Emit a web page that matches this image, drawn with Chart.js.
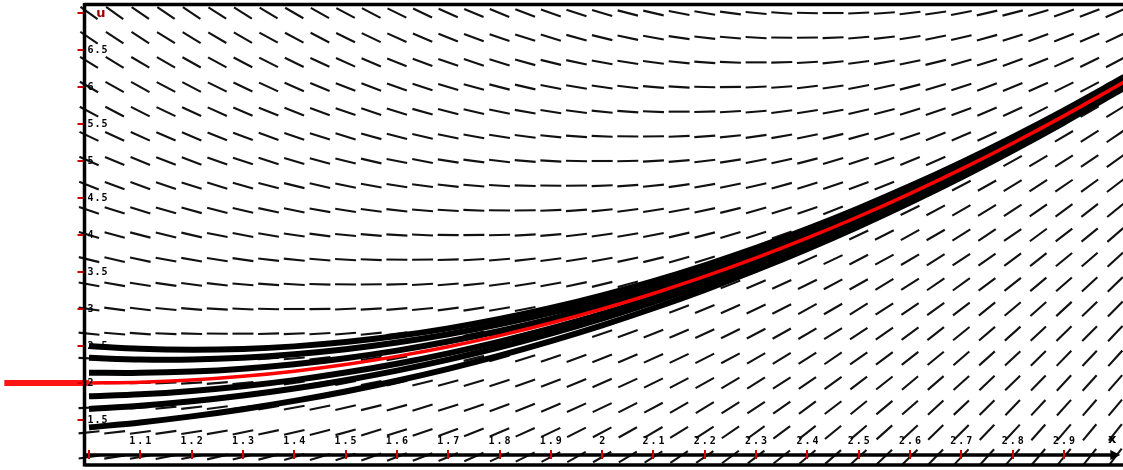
<!DOCTYPE html>
<html>
<head>
<meta charset="utf-8">
<script src="https://cdn.jsdelivr.net/npm/chart.js@4.4.1/dist/chart.umd.min.js"></script>
<style>
  html,body{margin:0;padding:0;background:#fff;}
  #wrap{width:1123px;height:470px;}
</style>
</head>
<body>
<div id="wrap"><canvas id="slopeChart" width="1123" height="470"></canvas></div>
<script>
// solution curves u(x), sampled every 0.1 (last sample just past the right edge)
const solX   = [1.0,1.1,1.2,1.3,1.4,1.5,1.6,1.7,1.8,1.9,2.0,2.1,2.2,2.3,2.4,2.5,2.6,2.7,2.8,2.9,3.0,3.02];
const redU   = [2.00,2.01,2.04,2.09,2.16,2.25,2.36,2.49,2.64,2.81,3.00,3.21,3.44,3.69,3.96,4.25,4.56,4.89,5.24,5.61,6.00,6.080];
const curveA = [2.500,2.462,2.449,2.460,2.495,2.553,2.634,2.738,2.865,3.013,3.184,3.377,3.591,3.826,4.083,4.362,4.661,4.981,5.323,5.685,6.068,6.147];
const curveB = [2.340,2.318,2.318,2.342,2.388,2.456,2.547,2.659,2.793,2.948,3.125,3.323,3.542,3.783,4.044,4.326,4.629,4.952,5.296,5.661,6.046,6.126];
const curveC = [2.140,2.137,2.155,2.194,2.254,2.335,2.437,2.560,2.703,2.867,3.052,3.257,3.482,3.728,3.995,4.281,4.588,4.916,5.263,5.631,6.019,6.099];
const curveD = [1.820,1.847,1.893,1.957,2.039,2.141,2.261,2.401,2.559,2.737,2.934,3.150,3.386,3.641,3.916,4.210,4.524,4.857,5.210,5.583,5.976,6.057];
const curveE = [1.650,1.693,1.753,1.831,1.925,2.038,2.168,2.316,2.483,2.668,2.871,3.094,3.335,3.595,3.874,4.172,4.489,4.826,5.182,5.558,5.953,6.034];
const curveF = [1.400,1.467,1.549,1.646,1.758,1.886,2.031,2.192,2.370,2.566,2.779,3.010,3.259,3.527,3.812,4.116,4.439,4.780,5.141,5.520,5.919,6.001];

// initial value marker u(1)=2, left of the axis
const markerX = [0.835, 1.0];
const markerU = [2, 2];

// direction field grid and slopes (rows = fieldU, cols = fieldX)
const fieldX = [1.00,1.05,1.10,1.15,1.20,1.25,1.30,1.35,1.40,1.45,1.50,1.55,1.60,1.65,1.70,1.75,1.80,1.85,1.90,1.95,2.00,
                2.05,2.10,2.15,2.20,2.25,2.30,2.35,2.40,2.45,2.50,2.55,2.60,2.65,2.70,2.75,2.80,2.85,2.90,2.95,3.00];
const fieldU = [1.000,1.333,1.667,2.000,2.333,2.667,3.000,3.333,3.667,4.000,4.333,4.667,5.000,5.333,5.667,6.000,6.333,6.667,7.000];
const fieldSlopes = [
  [1.0,1.1,1.2,1.3,1.4,1.6,1.7,1.8,2.0,2.1,2.3,2.4,2.6,2.7,2.9,3.1,3.2,3.4,3.6,3.8,4.0,4.2,4.4,4.6,4.8,5.1,5.3,5.5,5.8,6.0,6.3,6.5,6.8,7.0,7.3,7.6,7.8,8.1,8.4,8.7,9.0],
  [0.7,0.8,0.9,1.0,1.1,1.2,1.4,1.5,1.6,1.8,1.9,2.1,2.2,2.4,2.6,2.7,2.9,3.1,3.3,3.5,3.7,3.9,4.1,4.3,4.5,4.7,5.0,5.2,5.4,5.7,5.9,6.2,6.4,6.7,7.0,7.2,7.5,7.8,8.1,8.4,8.7],
  [0.3,0.4,0.5,0.7,0.8,0.9,1.0,1.2,1.3,1.4,1.6,1.7,1.9,2.1,2.2,2.4,2.6,2.8,2.9,3.1,3.3,3.5,3.7,4.0,4.2,4.4,4.6,4.9,5.1,5.3,5.6,5.8,6.1,6.4,6.6,6.9,7.2,7.5,7.7,8.0,8.3],
  [0.0,0.1,0.2,0.3,0.4,0.6,0.7,0.8,1.0,1.1,1.3,1.4,1.6,1.7,1.9,2.1,2.2,2.4,2.6,2.8,3.0,3.2,3.4,3.6,3.8,4.1,4.3,4.5,4.8,5.0,5.3,5.5,5.8,6.0,6.3,6.6,6.8,7.1,7.4,7.7,8.0],
  [-0.3,-0.2,-0.1,0.0,0.1,0.2,0.4,0.5,0.6,0.8,0.9,1.1,1.2,1.4,1.6,1.7,1.9,2.1,2.3,2.5,2.7,2.9,3.1,3.3,3.5,3.7,4.0,4.2,4.4,4.7,4.9,5.2,5.4,5.7,6.0,6.2,6.5,6.8,7.1,7.4,7.7],
  [-0.7,-0.6,-0.5,-0.3,-0.2,-0.1,0.0,0.2,0.3,0.4,0.6,0.7,0.9,1.1,1.2,1.4,1.6,1.8,1.9,2.1,2.3,2.5,2.7,3.0,3.2,3.4,3.6,3.9,4.1,4.3,4.6,4.8,5.1,5.4,5.6,5.9,6.2,6.5,6.7,7.0,7.3],
  [-1.0,-0.9,-0.8,-0.7,-0.6,-0.4,-0.3,-0.2,0.0,0.1,0.3,0.4,0.6,0.7,0.9,1.1,1.2,1.4,1.6,1.8,2.0,2.2,2.4,2.6,2.8,3.1,3.3,3.5,3.8,4.0,4.3,4.5,4.8,5.0,5.3,5.6,5.8,6.1,6.4,6.7,7.0],
  [-1.3,-1.2,-1.1,-1.0,-0.9,-0.8,-0.6,-0.5,-0.4,-0.2,-0.1,0.1,0.2,0.4,0.6,0.7,0.9,1.1,1.3,1.5,1.7,1.9,2.1,2.3,2.5,2.7,3.0,3.2,3.4,3.7,3.9,4.2,4.4,4.7,5.0,5.2,5.5,5.8,6.1,6.4,6.7],
  [-1.7,-1.6,-1.5,-1.3,-1.2,-1.1,-1.0,-0.8,-0.7,-0.6,-0.4,-0.3,-0.1,0.1,0.2,0.4,0.6,0.8,0.9,1.1,1.3,1.5,1.7,2.0,2.2,2.4,2.6,2.9,3.1,3.3,3.6,3.8,4.1,4.4,4.6,4.9,5.2,5.5,5.7,6.0,6.3],
  [-2.0,-1.9,-1.8,-1.7,-1.6,-1.4,-1.3,-1.2,-1.0,-0.9,-0.7,-0.6,-0.4,-0.3,-0.1,0.1,0.2,0.4,0.6,0.8,1.0,1.2,1.4,1.6,1.8,2.1,2.3,2.5,2.8,3.0,3.3,3.5,3.8,4.0,4.3,4.6,4.8,5.1,5.4,5.7,6.0],
  [-2.3,-2.2,-2.1,-2.0,-1.9,-1.8,-1.6,-1.5,-1.4,-1.2,-1.1,-0.9,-0.8,-0.6,-0.4,-0.3,-0.1,0.1,0.3,0.5,0.7,0.9,1.1,1.3,1.5,1.7,2.0,2.2,2.4,2.7,2.9,3.2,3.4,3.7,4.0,4.2,4.5,4.8,5.1,5.4,5.7],
  [-2.7,-2.6,-2.5,-2.3,-2.2,-2.1,-2.0,-1.8,-1.7,-1.6,-1.4,-1.3,-1.1,-0.9,-0.8,-0.6,-0.4,-0.2,-0.1,0.1,0.3,0.5,0.7,1.0,1.2,1.4,1.6,1.9,2.1,2.3,2.6,2.8,3.1,3.4,3.6,3.9,4.2,4.5,4.7,5.0,5.3],
  [-3.0,-2.9,-2.8,-2.7,-2.6,-2.4,-2.3,-2.2,-2.0,-1.9,-1.7,-1.6,-1.4,-1.3,-1.1,-0.9,-0.8,-0.6,-0.4,-0.2,0.0,0.2,0.4,0.6,0.8,1.1,1.3,1.5,1.8,2.0,2.3,2.5,2.8,3.0,3.3,3.6,3.8,4.1,4.4,4.7,5.0],
  [-3.3,-3.2,-3.1,-3.0,-2.9,-2.8,-2.6,-2.5,-2.4,-2.2,-2.1,-1.9,-1.8,-1.6,-1.4,-1.3,-1.1,-0.9,-0.7,-0.5,-0.3,-0.1,0.1,0.3,0.5,0.7,1.0,1.2,1.4,1.7,1.9,2.2,2.4,2.7,3.0,3.2,3.5,3.8,4.1,4.4,4.7],
  [-3.7,-3.6,-3.5,-3.3,-3.2,-3.1,-3.0,-2.8,-2.7,-2.6,-2.4,-2.3,-2.1,-1.9,-1.8,-1.6,-1.4,-1.2,-1.1,-0.9,-0.7,-0.5,-0.3,0.0,0.2,0.4,0.6,0.9,1.1,1.3,1.6,1.8,2.1,2.4,2.6,2.9,3.2,3.5,3.7,4.0,4.3],
  [-4.0,-3.9,-3.8,-3.7,-3.6,-3.4,-3.3,-3.2,-3.0,-2.9,-2.7,-2.6,-2.4,-2.3,-2.1,-1.9,-1.8,-1.6,-1.4,-1.2,-1.0,-0.8,-0.6,-0.4,-0.2,0.1,0.3,0.5,0.8,1.0,1.3,1.5,1.8,2.0,2.3,2.6,2.8,3.1,3.4,3.7,4.0],
  [-4.3,-4.2,-4.1,-4.0,-3.9,-3.8,-3.6,-3.5,-3.4,-3.2,-3.1,-2.9,-2.8,-2.6,-2.4,-2.3,-2.1,-1.9,-1.7,-1.5,-1.3,-1.1,-0.9,-0.7,-0.5,-0.3,0.0,0.2,0.4,0.7,0.9,1.2,1.4,1.7,2.0,2.2,2.5,2.8,3.1,3.4,3.7],
  [-4.7,-4.6,-4.5,-4.3,-4.2,-4.1,-4.0,-3.8,-3.7,-3.6,-3.4,-3.3,-3.1,-2.9,-2.8,-2.6,-2.4,-2.2,-2.1,-1.9,-1.7,-1.5,-1.3,-1.0,-0.8,-0.6,-0.4,-0.1,0.1,0.3,0.6,0.8,1.1,1.4,1.6,1.9,2.2,2.5,2.7,3.0,3.3],
  [-5.0,-4.9,-4.8,-4.7,-4.6,-4.4,-4.3,-4.2,-4.0,-3.9,-3.7,-3.6,-3.4,-3.3,-3.1,-2.9,-2.8,-2.6,-2.4,-2.2,-2.0,-1.8,-1.6,-1.4,-1.2,-0.9,-0.7,-0.5,-0.2,0.0,0.3,0.5,0.8,1.0,1.3,1.6,1.8,2.1,2.4,2.7,3.0]
];

// axis ticks
const xTickValues = [1.0,1.1,1.2,1.3,1.4,1.5,1.6,1.7,1.8,1.9,2.0,2.1,2.2,2.3,2.4,2.5,2.6,2.7,2.8,2.9];
const xTickLabels = ['','1.1','1.2','1.3','1.4','1.5','1.6','1.7','1.8','1.9','2','2.1','2.2','2.3','2.4','2.5','2.6','2.7','2.8','2.9'];
const yTickValues = [1.5,2,2.5,3,3.5,4,4.5,5,5.5,6,6.5,7];
const yTickLabels = ['1.5','2','2.5','3','3.5','4','4.5','5','5.5','6','6.5',''];
const xAxisEnd = 3.0;
const xAxisName = 'x';
const yAxisName = 'u';

const fieldPoints = [];
fieldU.forEach((u,i)=>{
  fieldX.forEach((x,j)=>{ fieldPoints.push({x:x, y:u, s:fieldSlopes[i][j]}); });
});
function curvePts(vals){ return solX.map((x,i)=>({x:x, y:vals[i]})); }

// turn a slope into a canvas rotation using the current scales
function fieldAngle(c){
  if(!c.raw) return 0;
  const xs = c.chart.scales.x, ys = c.chart.scales.y;
  const kx = (xs.right - xs.left)/(xs.max - xs.min);
  const ky = (ys.bottom - ys.top)/(ys.max - ys.min);
  return -Math.atan(c.raw.s*ky/kx)*180/Math.PI;
}

const axisDecor = {
  id:'axisDecor',
  afterDatasetsDraw(chart){
    const {ctx, chartArea:a, scales:{x:xs, y:ys}} = chart;
    const W = chart.width, H = chart.height;
    const fl = a.left - 4.5, ft = 4.5, fb = H - 5;
    const ay = ys.getPixelForValue(ys.min) - 2;
    const ax = xs.getPixelForValue(xAxisEnd);
    ctx.save();
    ctx.strokeStyle = '#000';
    ctx.lineWidth = 3.5;
    ctx.beginPath();
    ctx.moveTo(fl, ft); ctx.lineTo(W, ft);
    ctx.moveTo(fl, ft - 1.5); ctx.lineTo(fl, fb + 1.5);
    ctx.moveTo(fl, fb); ctx.lineTo(W, fb);
    ctx.moveTo(fl, ay); ctx.lineTo(ax - 2, ay);
    ctx.stroke();
    // arrow head on the x axis
    ctx.fillStyle = '#000';
    ctx.beginPath();
    ctx.moveTo(ax - 5, ay - 5); ctx.lineTo(ax + 5, ay); ctx.lineTo(ax - 5, ay + 5);
    ctx.closePath(); ctx.fill();

    // red ticks
    ctx.strokeStyle = '#d40000';
    ctx.lineWidth = 2;
    ctx.beginPath();
    xTickValues.forEach(v=>{ const px = Math.round(xs.getPixelForValue(v)); ctx.moveTo(px, ay - 5); ctx.lineTo(px, ay + 4); });
    yTickValues.forEach(v=>{ const py = Math.round(ys.getPixelForValue(v)); ctx.moveTo(fl - 7, py); ctx.lineTo(fl - 1, py); });
    ctx.stroke();

    // tick labels
    ctx.fillStyle = '#000';
    ctx.font = 'bold 10px "DejaVu Sans Mono"';
    ctx.letterSpacing = '2px';
    ctx.textAlign = 'center';
    ctx.textBaseline = 'middle';
    xTickValues.forEach((v,i)=>{ if(xTickLabels[i]) ctx.fillText(xTickLabels[i], xs.getPixelForValue(v) + 1, ay - 14); });
    ctx.letterSpacing = '1px';
    ctx.textAlign = 'left';
    yTickValues.forEach((v,i)=>{ if(yTickLabels[i]) ctx.fillText(yTickLabels[i], fl + 3, ys.getPixelForValue(v)); });

    ctx.letterSpacing = '0px';
    ctx.font = 'bold 13px "DejaVu Sans"';
    ctx.fillStyle = '#000';
    ctx.textAlign = 'center';
    ctx.fillText(xAxisName, ax - 3, ay - 15);
    ctx.fillStyle = '#a00000';
    ctx.fillText(yAxisName, a.left + 12, ys.getPixelForValue(ys.max) + 1);
    ctx.restore();
  }
};

const lineBase = {showLine:true, pointRadius:0, tension:0.3, clip:false};

new Chart(document.getElementById('slopeChart'), {
  type:'scatter',
  data:{
    datasets:[
      {label:'u(1)=2 marker', data: markerX.map((x,i)=>({x:x, y:markerU[i]})), showLine:true, pointRadius:0,
       borderColor:'#ff1414', borderWidth:6, clip:false, order:0},
      Object.assign({label:'u(1)=2', data: curvePts(redU), borderColor:'#ff0000', borderWidth:3.5, order:1}, lineBase),
      Object.assign({label:'a', data: curvePts(curveA), borderColor:'#000', borderWidth:6, order:2}, lineBase),
      Object.assign({label:'b', data: curvePts(curveB), borderColor:'#000', borderWidth:6, order:2}, lineBase),
      Object.assign({label:'c', data: curvePts(curveC), borderColor:'#000', borderWidth:6, order:2}, lineBase),
      Object.assign({label:'d', data: curvePts(curveD), borderColor:'#000', borderWidth:6, order:2}, lineBase),
      Object.assign({label:'e', data: curvePts(curveE), borderColor:'#000', borderWidth:6, order:2}, lineBase),
      Object.assign({label:'f', data: curvePts(curveF), borderColor:'#000', borderWidth:6, order:2}, lineBase),
      {label:'field', data: fieldPoints, pointStyle:'line', pointRadius:10.5, pointBorderWidth:2.1,
       pointBorderColor:'#111', pointBackgroundColor:'#111', pointRotation: fieldAngle, clip:false, order:3}
    ]
  },
  options:{
    responsive:false, animation:false, events:[],
    layout:{autoPadding:false, padding:{left:89, right:0, top:13, bottom:13}},
    scales:{
      x:{type:'linear', min:1, max:3.015, display:false},
      y:{type:'linear', min:1, max:7, display:false}
    },
    plugins:{legend:{display:false}, tooltip:{enabled:false}}
  },
  plugins:[axisDecor]
});
</script>
</body>
</html>
